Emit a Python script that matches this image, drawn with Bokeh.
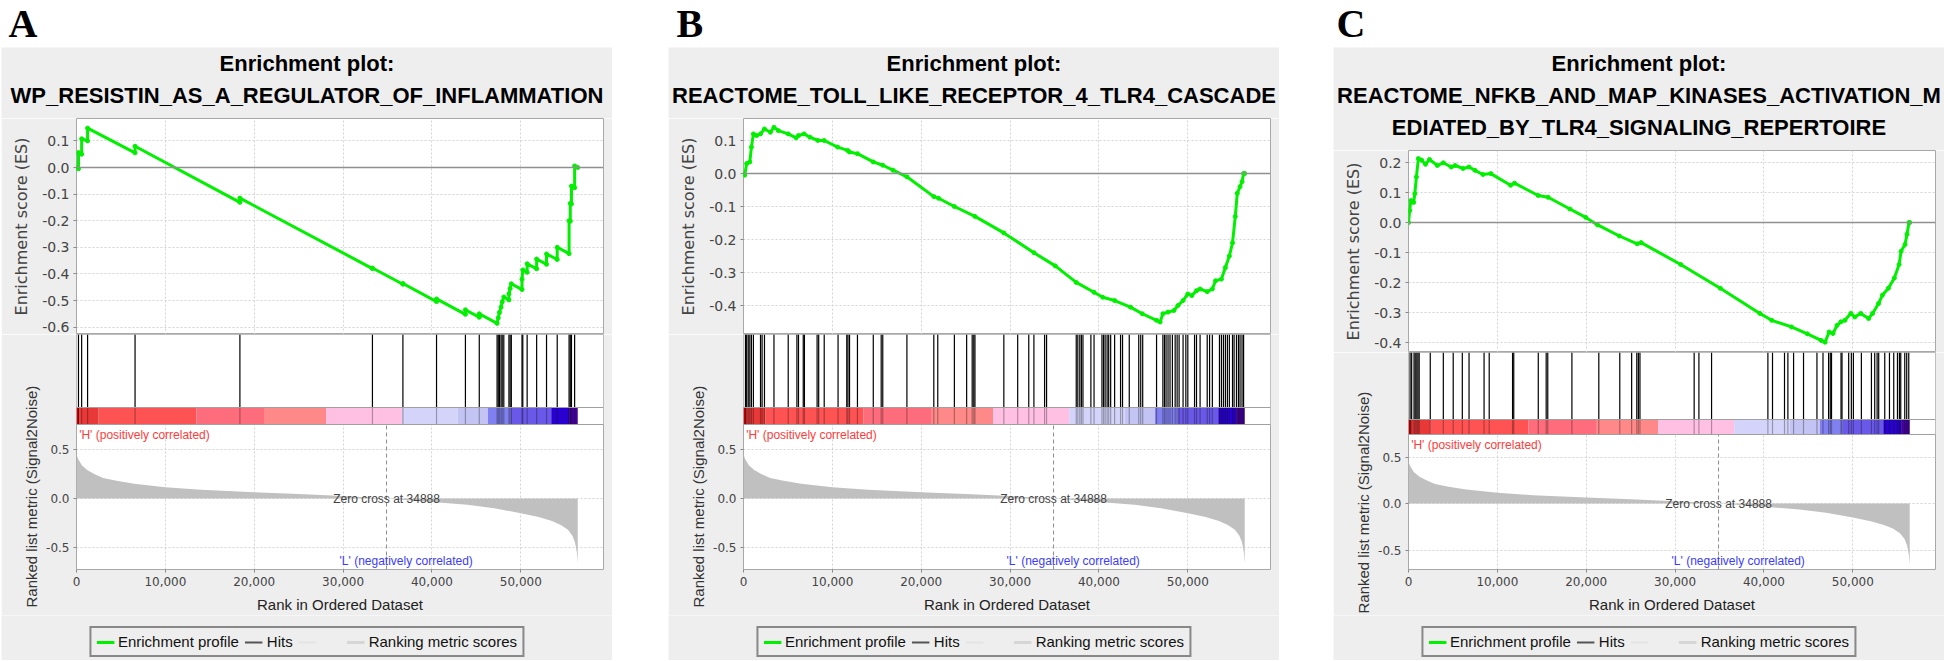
from bokeh.plotting import figure
from bokeh.layouts import row, column
from bokeh.models import (FixedTicker, NumeralTickFormatter, PrintfTickFormatter, Span,
                          Label, Legend, LegendItem, Spacer, ColumnDataSource, Title, Plot)
from bokeh.embed import file_html
from bokeh.resources import INLINE

# ---------------- data ----------------
N_GENES = 56400
RANK_MAX = 59300
ZERO_CROSS = 34888
X_TICKS = [0, 10000, 20000, 30000, 40000, 50000]
METRIC_TICKS = [-0.5, 0.0, 0.5]

METRIC_RANK = [0, 200, 600, 1200, 2000, 3000, 4500, 6500, 10000, 14000, 20000, 25000, 30000,
               34888, 40000, 44000, 47000, 50000, 52000, 53500, 54500, 55300, 55800, 56100,
               56300, 56400]
METRIC_VALUE = [0.45, 0.40, 0.34, 0.29, 0.25, 0.21, 0.18, 0.15, 0.115, 0.09, 0.065, 0.045, 0.025,
                0.0, -0.035, -0.065, -0.10, -0.15, -0.19, -0.23, -0.27, -0.32, -0.38, -0.45,
                -0.55, -0.66]

CBAR_EDGES = [0, 356, 2490, 13490, 21190, 28090, 36640, 42870, 46300, 48880, 53420, 55430, 56400]
CBAR_COLORS = ["#c80000", "#e83838", "#ff5252", "#ff6c7c", "#ff8888", "#ffc0e4", "#d4d4fa",
               "#c4c4f4", "#8080f0", "#6a58e8", "#2a00d0", "#44009a"]

A_TITLE = ["Enrichment plot:", "WP_RESISTIN_AS_A_REGULATOR_OF_INFLAMMATION"]
A_ES_TICKS = [-0.6, -0.5, -0.4, -0.3, -0.2, -0.1, 0.0, 0.1]
A_ES_RANK = [0, 223, 223, 579, 579, 1247, 1247, 6589, 6589, 18387, 18387, 33300, 33300, 36729,
             36729, 40513, 40513, 43763, 43763, 45321, 45321, 47325, 47459, 47592, 47770, 47904,
             48082, 48660, 48660, 48794, 48928, 50130, 50130, 50219, 50709, 50709, 51777, 51777,
             52890, 52890, 54092, 54092, 55427, 55427, 55561, 55561, 55695, 55695, 56051, 56051,
             56400]
A_ES = [0.0, -0.005, 0.056, 0.050, 0.108, 0.100, 0.148, 0.055, 0.080, -0.131, -0.115, -0.380,
        -0.378, -0.439, -0.436, -0.504, -0.494, -0.552, -0.535, -0.563, -0.550, -0.586, -0.565,
        -0.545, -0.525, -0.505, -0.487, -0.498, -0.475, -0.455, -0.437, -0.459, -0.420, -0.385,
        -0.394, -0.362, -0.381, -0.344, -0.364, -0.325, -0.346, -0.300, -0.324, -0.200, -0.202,
        -0.135, -0.137, -0.070, -0.076, 0.006, 0.0]
A_HITS = [223, 579, 1247, 6589, 18387, 33300, 36729, 40513, 43763, 45321, 47325, 47459, 47592,
          47770, 47904, 48082, 48660, 48794, 48928, 50130, 50219, 50709, 51777, 52890, 54092,
          55427, 55561, 55695, 56051]

B_TITLE = ["Enrichment plot:", "REACTOME_TOLL_LIKE_RECEPTOR_4_TLR4_CASCADE"]
B_ES_TICKS = [-0.4, -0.3, -0.2, -0.1, 0.0, 0.1]
B_ES_RANK = [0, 134, 356, 712, 890, 1113, 1469, 1914, 2360, 3027, 3428, 3918, 5031, 5921, 6188,
             6812, 7479, 8370, 9082, 10596, 11709, 11931, 12822, 14603, 15671, 16829, 18387,
             21414, 21948, 23729, 26044, 29294, 32678, 35082, 37441, 39445, 40424, 41760, 43541,
             44876, 46479, 46880, 47191, 47770, 48438, 48883, 49462, 49996, 50441, 50976, 51376,
             52178, 52756, 53113, 53780, 54225, 54670, 55026, 55338, 55561, 55872, 56095, 56273,
             56400]
B_ES = [0.0, -0.005, 0.03, 0.035, 0.08, 0.12, 0.115, 0.12, 0.135, 0.125, 0.14, 0.13, 0.12, 0.108,
        0.115, 0.12, 0.11, 0.10, 0.10, 0.08, 0.07, 0.065, 0.06, 0.035, 0.025, 0.01, -0.01, -0.07,
        -0.075, -0.10, -0.13, -0.18, -0.24, -0.28, -0.33, -0.36, -0.375, -0.385, -0.405, -0.425,
        -0.445, -0.45, -0.425, -0.42, -0.415, -0.40, -0.385, -0.365, -0.37, -0.355, -0.35,
        -0.358, -0.35, -0.325, -0.32, -0.285, -0.25, -0.21, -0.13, -0.06, -0.04, -0.025, 0.0, 0.0]
B_HITS = [223, 356, 534, 712, 890, 1113, 1914, 2092, 2360, 3428, 5031, 6010, 6188, 6723, 6856,
          8281, 8459, 9082, 10640, 11620, 11753, 11931, 12822, 14603, 15493, 15671, 18387, 21414,
          21859, 23729, 25109, 25733, 25911, 26044, 29294, 30852, 32099, 32678, 33879, 34102,
          37441, 37619, 37842, 38020, 38198, 39089, 39445, 40335, 40513, 40691, 40914, 41092,
          41315, 41760, 42428, 42650, 43407, 44475, 44698, 44920, 46479, 47191, 47369, 47547,
          47770, 47993, 48260, 48571, 48794, 49016, 49462, 49773, 49996, 50753, 50976, 51376,
          52178, 52445, 52756, 53558, 53780, 54003, 54225, 54448, 54670, 55026, 55204, 55472,
          55694, 55872, 56095, 56273]

C_TITLE = ["Enrichment plot:", "REACTOME_NFKB_AND_MAP_KINASES_ACTIVATION_M",
           "EDIATED_BY_TLR4_SIGNALING_REPERTOIRE"]
C_ES_TICKS = [-0.4, -0.3, -0.2, -0.1, 0.0, 0.1, 0.2]
C_ES_RANK = [0, 134, 267, 579, 712, 890, 1113, 1469, 1914, 2360, 3250, 3918, 4808, 5253, 6144,
             6812, 7479, 8370, 9260, 11486, 11931, 14603, 15716, 18164, 19945, 21281, 23729,
             25733, 26178, 30630, 35082, 39534, 40869, 43095, 44876, 46434, 46880, 47325, 47770,
             48216, 48661, 49106, 49773, 50219, 50887, 51777, 52222, 52890, 53335, 54003, 54670,
             55205, 55427, 55872, 56095, 56318, 56400]
C_ES = [0.0, 0.04, 0.073, 0.067, 0.096, 0.152, 0.213, 0.208, 0.194, 0.21, 0.19, 0.199, 0.185,
        0.19, 0.18, 0.185, 0.174, 0.16, 0.163, 0.124, 0.131, 0.09, 0.084, 0.045, 0.017, -0.008,
        -0.045, -0.071, -0.067, -0.14, -0.219, -0.303, -0.326, -0.348, -0.371, -0.393, -0.399,
        -0.365, -0.37, -0.343, -0.331, -0.326, -0.303, -0.315, -0.303, -0.32, -0.303, -0.27,
        -0.242, -0.219, -0.185, -0.14, -0.096, -0.073, -0.039, 0.0, 0.0]
C_HITS = [178, 356, 623, 757, 935, 1068, 1202, 2449, 3918, 5031, 6055, 6812, 8503, 9082, 11709,
          11842, 14603, 15493, 15671, 18387, 21414, 23774, 25109, 25688, 25866, 26044, 32143,
          32678, 34102, 40440, 40960, 42310, 42690, 43330, 44450, 45960, 46640, 47270, 47460,
          47600, 48670, 48780, 49530, 49830, 50060, 50960, 52090, 52460, 52730, 52910, 53590,
          54120, 54600, 55020, 55240, 55390, 55840, 56060, 56290]

# ---------------- styling / layout ----------------
PANEL_W = 611
LETTER_H = 47
BORDER_L = 75
BORDER_R = 9
GRAY = "#eeeeee"
GREEN = "#00f000"
GRID = "#d4d4d4"
OUTLINE = "#a8a8a8"
NO_ALIGN = {"frame_align": False} if "frame_align" in Plot.properties() else {}


def base_fig(w, h, xr, yr, **kw):
    return figure(width=w, height=h, x_range=xr, y_range=yr, output_backend="svg",
                  toolbar_location=None, **kw)


def strip_fig(h, fill):
    p = base_fig(PANEL_W, h, (0, PANEL_W), (0, h), x_axis_location=None,
                 y_axis_location=None, min_border=0, **NO_ALIGN)
    p.grid.visible = False
    p.outline_line_color = None
    p.background_fill_color = fill
    p.border_fill_color = fill
    return p


def style_axis(ax, size):
    ax.axis_line_color = None
    ax.major_tick_line_color = "#888888"
    ax.major_tick_in = 0
    ax.major_tick_out = 3
    ax.minor_tick_line_color = None
    ax.major_label_text_font = "DejaVu Sans"
    ax.major_label_text_font_size = size
    ax.major_label_text_color = "#444444"
    ax.major_label_standoff = 4


def make_panel(letter, letter_x, title_lines, title_h, es_rank, es_val, hits, es_ticks,
               es_h, es_zero_px, es_ppu, frame_h, hits_px, cbar_px, zero_px, ppu, label_drop):
    # letter strip
    lf = strip_fig(LETTER_H, "white")
    lf.add_layout(Label(x=letter_x, y=LETTER_H - 23, text=letter, text_font="Liberation Serif",
                        text_font_style="bold", text_font_size="40px", text_color="black",
                        text_align="left", text_baseline="middle"))

    # title strip
    tf = strip_fig(title_h, GRAY)
    for i, line in enumerate(title_lines):
        tf.add_layout(Label(x=PANEL_W / 2, y=title_h - 16 - 32 * i, text=line,
                            text_align="center", text_baseline="middle",
                            text_font="Liberation Sans", text_font_style="bold",
                            text_font_size="22px", text_color="black"))

    # enrichment score plot
    es_top = es_zero_px / es_ppu
    es_bot = -(es_h - es_zero_px) / es_ppu
    es = base_fig(PANEL_W, es_h, (0, RANK_MAX), (es_bot, es_top), x_axis_location=None,
                  min_border_left=BORDER_L, min_border_right=BORDER_R, min_border_top=0,
                  min_border_bottom=0)
    es.background_fill_color = "white"
    es.border_fill_color = GRAY
    es.outline_line_color = OUTLINE
    es.xgrid.ticker = FixedTicker(ticks=X_TICKS)
    es.yaxis.ticker = FixedTicker(ticks=es_ticks)
    es.yaxis.formatter = PrintfTickFormatter(format="%.1f")
    style_axis(es.yaxis[0], "14px")
    es.yaxis.axis_label = "Enrichment score (ES)"
    es.yaxis.axis_label_text_font = "DejaVu Sans"
    es.yaxis.axis_label_text_font_style = "normal"
    es.yaxis.axis_label_text_font_size = "16px"
    es.yaxis.axis_label_text_color = "#444444"
    es.yaxis.axis_label_standoff = 8
    es.grid.grid_line_color = GRID
    es.grid.grid_line_dash = "2 2"
    es.add_layout(Span(location=0, dimension="width", line_color="#909090", line_width=1.5))
    es.line(es_rank, es_val, line_color=GREEN, line_width=3)
    es.scatter(es_rank, es_val, size=4, color=GREEN)

    # hits + colour bar + ranked list metric
    y_top = zero_px / ppu
    y_bot = -(frame_h - zero_px) / ppu
    cbar_top = y_top - hits_px / ppu
    cbar_bot = cbar_top - cbar_px / ppu
    bf = base_fig(PANEL_W, frame_h + 46, (0, RANK_MAX), (y_bot, y_top),
                  min_border_left=BORDER_L, min_border_right=BORDER_R, min_border_top=0,
                  min_border_bottom=46)
    bf.background_fill_color = "white"
    bf.border_fill_color = GRAY
    bf.outline_line_color = OUTLINE
    bf.xaxis.ticker = FixedTicker(ticks=X_TICKS)
    bf.xaxis.formatter = NumeralTickFormatter(format="0,0")
    bf.yaxis.ticker = FixedTicker(ticks=METRIC_TICKS)
    bf.yaxis.formatter = PrintfTickFormatter(format="%.1f")
    style_axis(bf.xaxis[0], "12px")
    style_axis(bf.yaxis[0], "12px")
    bf.xaxis.axis_label = "Rank in Ordered Dataset"
    bf.xaxis.axis_label_text_font = "Liberation Sans"
    bf.xaxis.axis_label_text_font_style = "normal"
    bf.xaxis.axis_label_text_font_size = "15px"
    bf.xaxis.axis_label_text_color = "#222222"
    bf.xaxis.axis_label_standoff = 7
    bf.grid.grid_line_color = GRID
    bf.grid.grid_line_dash = "2 2"
    # vertical axis title of the ranked-list part (sits lower than the frame centre)
    bf.add_layout(Title(text="Ranked list metric (Signal2Noise)", align="left",
                        offset=-label_drop, standoff=8,
                        text_font="Liberation Sans", text_font_style="normal",
                        text_font_size="15px", text_color="#333333"), "left")

    # white cover over the hit / colour-bar bands (no grid there)
    bf.quad(left=[0], right=[RANK_MAX], bottom=[cbar_bot], top=[y_top],
            fill_color="white", line_color=None)
    bf.quad(left=CBAR_EDGES[:-1], right=CBAR_EDGES[1:], bottom=cbar_bot, top=cbar_top,
            fill_color=CBAR_COLORS, line_color=None)
    bf.segment(x0=hits, x1=hits, y0=cbar_top, y1=y_top, line_color="black", line_width=1.2)
    bf.segment(x0=hits, x1=hits, y0=cbar_bot, y1=cbar_top, line_color="black",
               line_alpha=0.3, line_width=1.2)
    for loc in (cbar_top, cbar_bot):
        bf.add_layout(Span(location=loc, dimension="width", line_color="#a0a0a0",
                           line_width=1.2))

    bf.varea(x=METRIC_RANK, y1=0, y2=METRIC_VALUE, fill_color="#c0c0c0")
    bf.segment(x0=[ZERO_CROSS], x1=[ZERO_CROSS], y0=[y_bot], y1=[cbar_bot],
               line_color="#8c8c8c", line_dash="4 3", line_width=1)
    bf.add_layout(Label(x=ZERO_CROSS, y=0.0, text="Zero cross at %d" % ZERO_CROSS,
                        text_align="center", text_baseline="middle",
                        text_font="Liberation Sans", text_font_size="12px",
                        text_color="#444444"))
    bf.add_layout(Label(x=300, y=cbar_bot, y_offset=-3, text="'H' (positively correlated)",
                        text_align="left", text_baseline="top",
                        text_font="Liberation Sans", text_font_size="12px",
                        text_color="#ff3b3b"))
    bf.add_layout(Label(x=29600, y=y_bot, y_offset=2, text="'L' (negatively correlated)",
                        text_align="left", text_baseline="bottom",
                        text_font="Liberation Sans", text_font_size="12px",
                        text_color="#3b3bff"))

    # legend strip
    lg = strip_fig(45, GRAY)
    src = ColumnDataSource(data=dict(x=[float("nan")], y=[float("nan")]))
    r1 = lg.line("x", "y", source=src, line_color=GREEN, line_width=3)
    r2 = lg.line("x", "y", source=src, line_color="#555555", line_width=2)
    r3 = lg.line("x", "y", source=src, line_color="#e4e4e4", line_width=2)
    r4 = lg.line("x", "y", source=src, line_color="#d6d6d6", line_width=3)
    legend = Legend(items=[LegendItem(label="Enrichment profile", renderers=[r1]),
                           LegendItem(label="Hits", renderers=[r2]),
                           LegendItem(label=" ", renderers=[r3]),
                           LegendItem(label="Ranking metric scores", renderers=[r4])],
                    location="bottom_center", orientation="horizontal", margin=3,
                    padding=5, spacing=6, label_standoff=4, glyph_width=18, glyph_height=16,
                    label_text_font="Liberation Sans", label_text_font_size="15px",
                    label_text_color="#111111", border_line_color="#222222",
                    border_line_width=2, background_fill_color=GRAY,
                    background_fill_alpha=1.0)
    lg.add_layout(legend, "center")

    return column(lf, tf, es, bf, lg, spacing=0)


panel_a = make_panel("A", 7, A_TITLE, 71, A_ES_RANK, A_ES, A_HITS, A_ES_TICKS,
                     216, 49, 266, 235, 73, 17, 164, 98, 38)
panel_b = make_panel("B", 8, B_TITLE, 71, B_ES_RANK, B_ES, B_HITS, B_ES_TICKS,
                     216, 55, 330, 235, 73, 17, 164, 98, 38)
panel_c = make_panel("C", 3, C_TITLE, 103, C_ES_RANK, C_ES, C_HITS, C_ES_TICKS,
                     202, 72, 300, 217, 67, 15, 151, 93, 44)

layout = row(Spacer(width=1, height=10), panel_a, Spacer(width=56, height=10), panel_b,
             Spacer(width=54, height=10), panel_c, spacing=0)

open("out.html", "w").write(file_html(layout, INLINE))
